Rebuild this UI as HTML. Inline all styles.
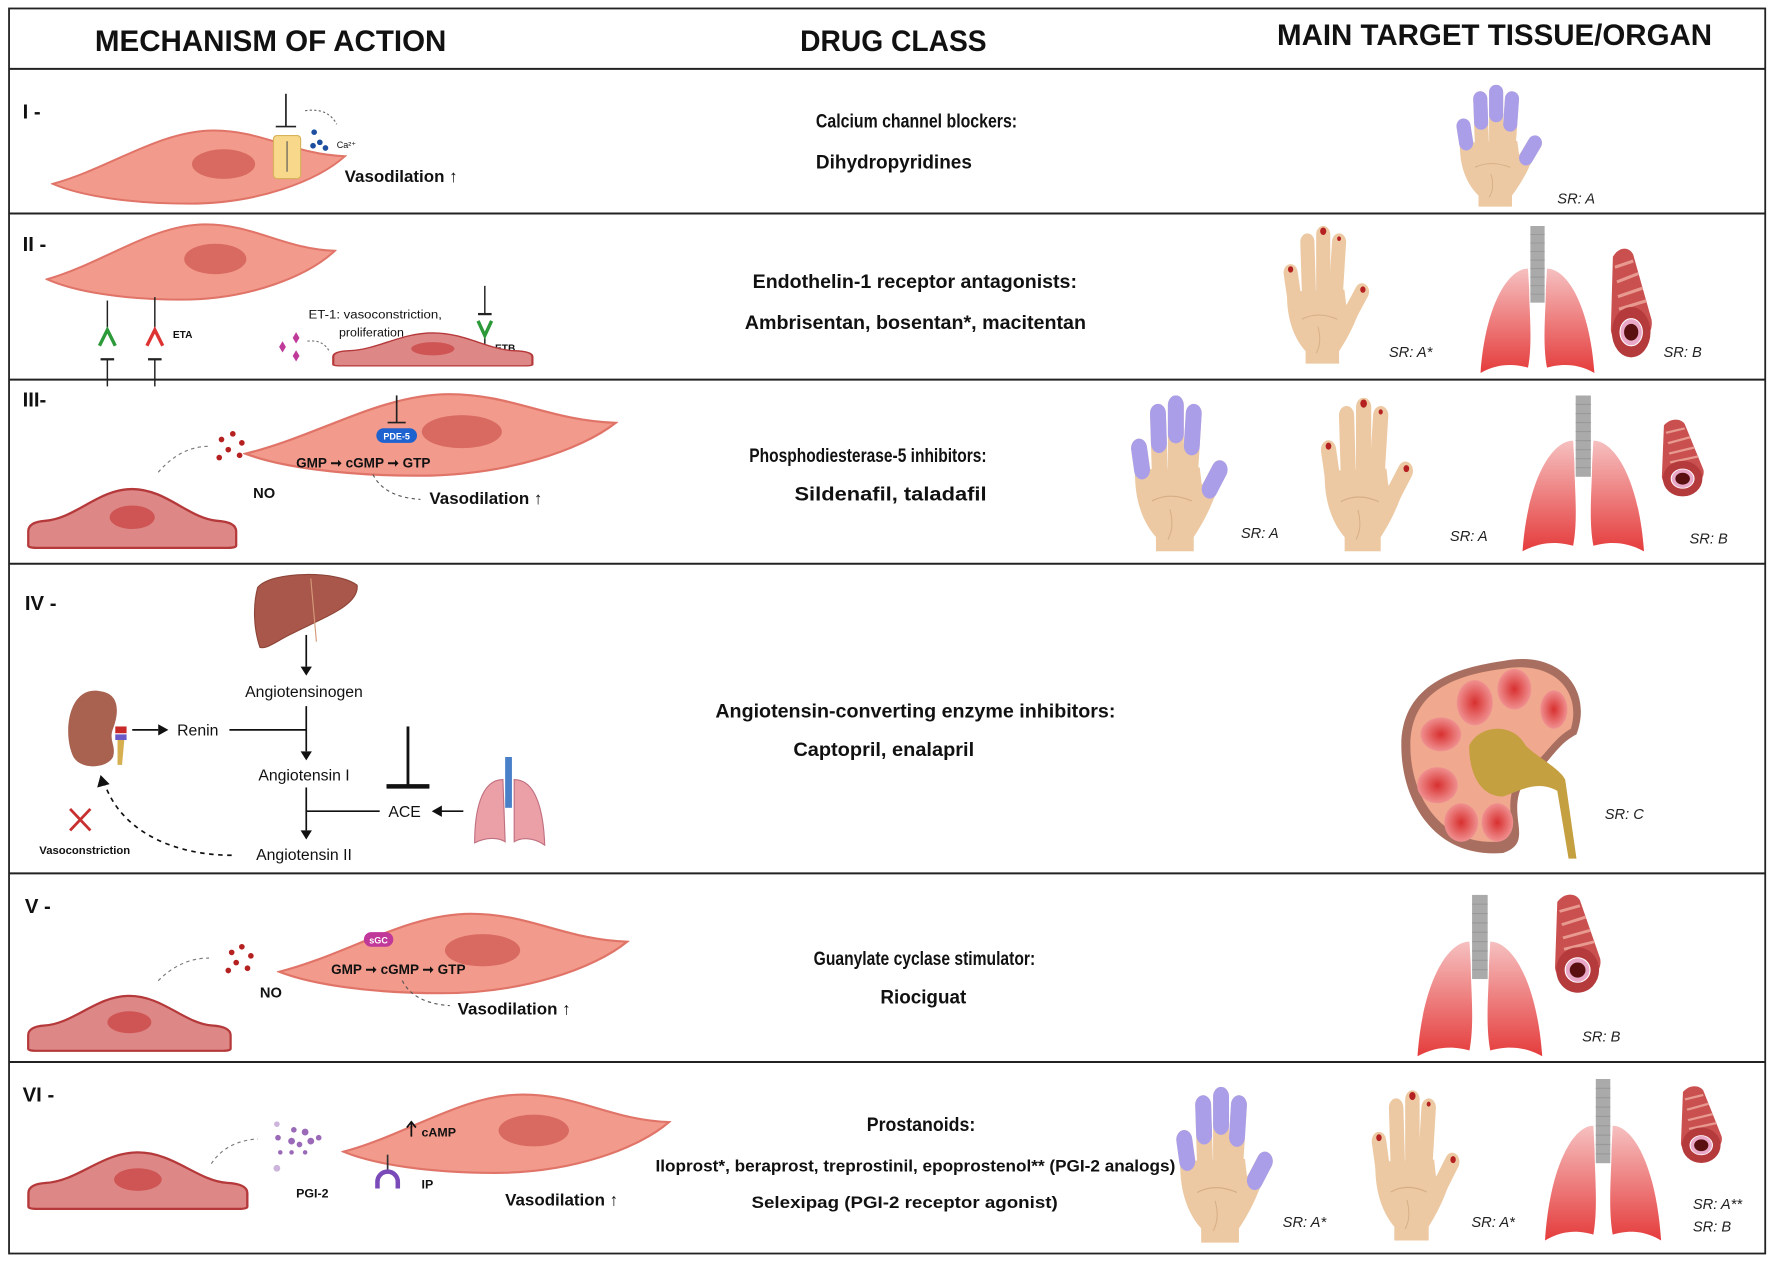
<!DOCTYPE html>
<html><head><meta charset="utf-8"><style>
html,body{margin:0;padding:0;background:#fff}
svg{display:block}
text{font-family:"Liberation Sans",sans-serif;fill:#111}
.h{font-weight:bold;font-size:26px}
.d{font-weight:bold;font-size:17px}
.r{font-weight:bold;font-size:18px}
.sr{font-style:italic;font-size:13px;fill:#222}
.s{font-weight:bold;font-size:13px}
</style></head><body>
<svg width="1772" height="1262" viewBox="0 0 1568 1117" preserveAspectRatio="none" xmlns="http://www.w3.org/2000/svg">
<defs>
<linearGradient id="lg" x1="0" y1="0" x2="0" y2="1"><stop offset="0" stop-color="#f6c0c0"/><stop offset="1" stop-color="#e53c3c"/></linearGradient>
<radialGradient id="rg"><stop offset="0" stop-color="#d83030"/><stop offset="1" stop-color="#f09090"/></radialGradient>
<symbol id="smc" viewBox="0 0 300 80" preserveAspectRatio="none">
<path d="M2,58 C60,42 110,4 165,4 C215,4 245,28 298,30 C270,55 210,78 140,78 C80,78 30,70 2,58Z" fill="#f29a8b" stroke="#e07468" stroke-width="2"/>
<ellipse cx="175" cy="38" rx="32" ry="15" fill="#d86a62"/>
</symbol>
<symbol id="endo" viewBox="0 0 190 72" preserveAspectRatio="none">
<path d="M3,68 L3,56 Q3,48 18,47 C45,45 65,20 95,20 C125,20 145,45 170,47 Q187,48 187,56 L187,68 Q187,70 180,70 L10,70 Q3,70 3,68Z" fill="#dd8886" stroke="#b5393a" stroke-width="2"/>
<ellipse cx="95" cy="44" rx="20" ry="10" fill="#cf5555"/>
</symbol>
<symbol id="handBase" viewBox="0 0 100 130" preserveAspectRatio="none">
<g stroke="#ecc9a2" stroke-width="16" stroke-linecap="round">
<line x1="9" y1="44" x2="15" y2="78"/>
<line x1="28" y1="15" x2="30" y2="68"/>
<line x1="46" y1="8" x2="46" y2="66"/>
<line x1="64" y1="15" x2="60" y2="68"/>
<line x1="90" y1="62" x2="72" y2="90"/>
</g>
<path d="M5,62 C4,90 15,108 26,118 L26,130 L64,130 L64,118 C72,108 80,96 86,82 L72,74 L70,60 Z" fill="#ecc9a2"/>
<path d="M22,88 Q40,80 62,88 M40,95 Q45,110 38,120" fill="none" stroke="#d6ae86" stroke-width="1"/>
</symbol>
<symbol id="handP" viewBox="0 0 100 130" preserveAspectRatio="none">
<use href="#handBase" x="0" y="0" width="100" height="130"/>
<g stroke="#ab9ee8" stroke-width="16" stroke-linecap="round">
<line x1="9" y1="44" x2="12" y2="62"/>
<line x1="28" y1="15" x2="29" y2="40"/>
<line x1="46" y1="8" x2="46" y2="32"/>
<line x1="64" y1="15" x2="62" y2="42"/>
<line x1="90" y1="62" x2="80" y2="78"/>
</g>
</symbol>
<symbol id="handR" viewBox="0 0 100 130" preserveAspectRatio="none">
<use href="#handBase" x="0" y="0" width="100" height="130"/>
<g fill="#b52020"><circle cx="9" cy="41" r="3"/><circle cx="46" cy="5" r="3.5"/><circle cx="64" cy="12" r="2.2"/><circle cx="91" cy="60" r="3"/></g>
</symbol>
<symbol id="lung" viewBox="0 0 100 140" preserveAspectRatio="none">
<rect x="44" y="0" width="12" height="72" fill="#aaa"/>
<g stroke="#999" stroke-width="1"><line x1="44" y1="8" x2="56" y2="8"/><line x1="44" y1="16" x2="56" y2="16"/><line x1="44" y1="24" x2="56" y2="24"/><line x1="44" y1="32" x2="56" y2="32"/><line x1="44" y1="40" x2="56" y2="40"/><line x1="44" y1="48" x2="56" y2="48"/><line x1="44" y1="56" x2="56" y2="56"/><line x1="44" y1="64" x2="56" y2="64"/></g>
<path d="M42,40 C25,40 6,75 2,138 C18,128 32,130 42,133 C46,110 43,80 43,60Z" fill="url(#lg)"/>
<path d="M58,40 C75,40 94,75 98,138 C82,128 68,130 58,133 C54,110 57,80 57,60Z" fill="url(#lg)"/>
</symbol>
<symbol id="vessel" viewBox="0 0 50 110" preserveAspectRatio="none">
<path d="M8,10 C14,0 24,0 28,8 L46,70 C50,95 10,108 6,80Z" fill="#c9504f"/>
<g stroke="#e89a90" stroke-width="3" fill="none"><path d="M10,20 L28,14"/><path d="M12,34 L33,26"/><path d="M13,48 L37,40"/><path d="M14,60 L41,52"/></g>
<ellipse cx="26" cy="82" rx="19" ry="24" fill="#b43a3c"/>
<ellipse cx="26" cy="82" rx="11" ry="13" fill="#e9a8c8" stroke="#fff" stroke-width="1"/>
<ellipse cx="26" cy="82" rx="7" ry="8" fill="#5a1010"/>
</symbol>
</defs>

<rect x="8" y="7.5" width="1554" height="1102" fill="none" stroke="#222" stroke-width="1.6"/>
<g stroke="#222" stroke-width="1.8">
<line x1="8" y1="61" x2="1562" y2="61"/><line x1="8" y1="189" x2="1562" y2="189"/><line x1="8" y1="336" x2="1562" y2="336"/><line x1="8" y1="499" x2="1562" y2="499"/><line x1="8" y1="773" x2="1562" y2="773"/><line x1="8" y1="940" x2="1562" y2="940"/>
</g>

<text class="h" x="84" y="45" textLength="311" lengthAdjust="spacingAndGlyphs">MECHANISM OF ACTION</text>
<text class="h" x="708" y="45" textLength="165" lengthAdjust="spacingAndGlyphs">DRUG CLASS</text>
<text class="h" x="1130" y="40" textLength="385" lengthAdjust="spacingAndGlyphs">MAIN TARGET TISSUE/ORGAN</text>

<text class="r" x="20" y="105">I -</text>
<text class="r" x="20" y="222">II -</text>
<text class="r" x="20" y="360">III-</text>
<text class="r" x="22" y="540">IV -</text>
<text class="r" x="22" y="808">V -</text>
<text class="r" x="20" y="975">VI -</text>

<text class="d" x="722" y="113" textLength="178" lengthAdjust="spacingAndGlyphs">Calcium channel blockers:</text>
<text class="d" x="722" y="149" textLength="138" lengthAdjust="spacingAndGlyphs">Dihydropyridines</text>
<text class="d" x="666" y="255" textLength="287" lengthAdjust="spacingAndGlyphs">Endothelin-1 receptor antagonists:</text>
<text class="d" x="659" y="291" textLength="302" lengthAdjust="spacingAndGlyphs">Ambrisentan, bosentan*, macitentan</text>
<text class="d" x="663" y="409" textLength="210" lengthAdjust="spacingAndGlyphs">Phosphodiesterase-5 inhibitors:</text>
<text class="d" x="703" y="443" textLength="170" lengthAdjust="spacingAndGlyphs">Sildenafil, taladafil</text>
<text class="d" x="633" y="635" textLength="354" lengthAdjust="spacingAndGlyphs">Angiotensin-converting enzyme inhibitors:</text>
<text class="d" x="702" y="669" textLength="160" lengthAdjust="spacingAndGlyphs">Captopril, enalapril</text>
<text class="d" x="720" y="854" textLength="196" lengthAdjust="spacingAndGlyphs">Guanylate cyclase stimulator:</text>
<text class="d" x="779" y="888" textLength="76" lengthAdjust="spacingAndGlyphs">Riociguat</text>
<text class="d" x="767" y="1001" textLength="96" lengthAdjust="spacingAndGlyphs">Prostanoids:</text>
<text class="d" x="580" y="1037" style="font-size:15px" textLength="460" lengthAdjust="spacingAndGlyphs">Iloprost*, beraprost, treprostinil, epoprostenol** (PGI-2 analogs)</text>
<text class="d" x="665" y="1069" style="font-size:15px" textLength="271" lengthAdjust="spacingAndGlyphs">Selexipag (PGI-2 receptor agonist)</text>

<!-- Row I -->
<use href="#smc" x="45" y="112" width="262" height="70"/>
<rect x="242" y="120" width="24" height="38" rx="3" fill="#f8d98c" stroke="#d7b25a"/>
<line x1="254" y1="125" x2="254" y2="152" stroke="#555"/>
<g stroke="#222" stroke-width="1.5"><line x1="253" y1="83" x2="253" y2="112"/><line x1="244" y1="112" x2="262" y2="112"/></g>
<g fill="#1c4fa0"><circle cx="278" cy="117" r="2.5"/><circle cx="283" cy="126" r="2.5"/><circle cx="277" cy="129" r="2.5"/><circle cx="288" cy="131" r="2.5"/></g>
<path d="M270,98 Q290,95 298,110" fill="none" stroke="#666" stroke-dasharray="2,2"/>
<text x="298" y="131" style="font-size:8px">Ca²⁺</text>
<text x="305" y="161" style="font-weight:bold;font-size:15px">Vasodilation ↑</text>
<use href="#handP" x="1288" y="75" width="78" height="108"/>
<text class="sr" x="1378" y="180">SR: A</text>

<!-- Row II -->
<use href="#smc" x="40" y="195" width="258" height="72"/>
<g stroke="#222" stroke-width="1.3"><line x1="95" y1="266" x2="95" y2="290"/><line x1="137" y1="263" x2="137" y2="290"/>
<line x1="95" y1="318" x2="95" y2="342"/><line x1="89" y1="318" x2="101" y2="318" stroke-width="2"/>
<line x1="137" y1="318" x2="137" y2="342"/><line x1="131" y1="318" x2="143" y2="318" stroke-width="2"/>
<line x1="429" y1="253" x2="429" y2="278"/><line x1="423" y1="278" x2="435" y2="278" stroke-width="2"/>
<line x1="429" y1="297" x2="429" y2="310"/></g>
<path d="M88,306 L95,292 L102,306" fill="none" stroke="#2d9a3a" stroke-width="3"/>
<path d="M130,306 L137,292 L144,306" fill="none" stroke="#d33" stroke-width="3"/>
<path d="M423,284 L429,297 L435,284" fill="none" stroke="#2d9a3a" stroke-width="3"/>
<text x="153" y="299" style="font-size:9px;font-weight:bold">ETA</text>
<text x="438" y="311" style="font-size:9px;font-weight:bold">ETB</text>
<text x="273" y="282" style="font-size:11px" textLength="118" lengthAdjust="spacingAndGlyphs">ET-1: vasoconstriction,</text>
<text x="300" y="298" style="font-size:11px">proliferation</text>
<g fill="#c03a9a"><path d="M262,294 l3,5 -3,5 -3,-5z"/><path d="M250,302 l3,5 -3,5 -3,-5z"/><path d="M262,310 l3,5 -3,5 -3,-5z"/></g>
<path d="M272,302 Q286,300 292,312" fill="none" stroke="#777" stroke-dasharray="2,2"/>
<use href="#endo" x="292" y="283" width="182" height="42"/>
<use href="#handR" x="1135" y="200" width="78" height="122"/>
<text class="sr" x="1229" y="316">SR: A*</text>
<use href="#lung" x="1308" y="200" width="105" height="132"/>
<use href="#vessel" x="1420" y="218" width="45" height="102"/>
<text class="sr" x="1472" y="316">SR: B</text>

<!-- Row III -->
<use href="#endo" x="22" y="412" width="190" height="75"/>
<path d="M140,418 Q160,395 185,395" fill="none" stroke="#777" stroke-dasharray="3,3"/>
<g fill="#b52020"><circle cx="196" cy="389" r="2.5"/><circle cx="206" cy="384" r="2.5"/><circle cx="214" cy="392" r="2.5"/><circle cx="202" cy="398" r="2.5"/><circle cx="212" cy="403" r="2.5"/><circle cx="194" cy="405" r="2.5"/></g>
<text class="s" x="224" y="441">NO</text>
<use href="#smc" x="215" y="345" width="332" height="78"/>
<rect x="333" y="379" width="36" height="13" rx="6.5" fill="#1e62d0"/>
<text x="351" y="389" text-anchor="middle" style="font-size:8px;font-weight:bold;fill:#fff">PDE-5</text>
<g stroke="#222" stroke-width="1.5"><line x1="351" y1="350" x2="351" y2="374"/><line x1="343" y1="374" x2="359" y2="374"/></g>
<text x="262" y="414" style="font-size:12px;font-weight:bold">GMP ➞ cGMP ➞ GTP</text>
<path d="M330,420 Q340,440 372,442" fill="none" stroke="#555" stroke-dasharray="3,3"/>
<text x="380" y="446" style="font-weight:bold;font-size:15px">Vasodilation ↑</text>
<use href="#handP" x="1000" y="350" width="88" height="138"/>
<text class="sr" x="1098" y="476">SR: A</text>
<use href="#handR" x="1168" y="352" width="84" height="136"/>
<text class="sr" x="1283" y="479">SR: A</text>
<use href="#lung" x="1345" y="350" width="112" height="140"/>
<use href="#vessel" x="1465" y="370" width="46" height="72"/>
<text class="sr" x="1495" y="481">SR: B</text>

<!-- Row IV -->
<path d="M228,520 C240,505 300,505 316,518 C318,535 290,545 260,560 C245,567 236,575 230,573 C224,555 224,535 228,520Z" fill="#a8574a" stroke="#8d4538"/>
<line x1="275" y1="512" x2="280" y2="568" stroke="#d59a7a"/>
<g stroke="#111" stroke-width="1.5" fill="none">
<line x1="271" y1="562" x2="271" y2="590"/>
<line x1="271" y1="625" x2="271" y2="665"/>
<line x1="203" y1="646" x2="271" y2="646"/>
<line x1="117" y1="646" x2="140" y2="646"/>
<line x1="271" y1="697" x2="271" y2="735"/>
<line x1="271" y1="718" x2="336" y2="718"/>
<line x1="386" y1="718" x2="410" y2="718"/>
<line x1="361" y1="643" x2="361" y2="695" stroke-width="2.5"/>
<line x1="342" y1="696" x2="380" y2="696" stroke-width="4"/>
<path d="M205,757 C160,757 110,740 93,695" stroke-dasharray="4,4"/>
</g>
<g fill="#111"><path d="M266,590 L276,590 L271,598Z"/><path d="M266,665 L276,665 L271,673Z"/><path d="M266,735 L276,735 L271,743Z"/><path d="M140,641 L140,651 L149,646Z"/><path d="M391,713 L391,723 L382,718Z"/><path d="M86,697 L97,694 L89,686Z"/></g>
<text x="269" y="617" text-anchor="middle" style="font-size:14px">Angiotensinogen</text>
<text x="175" y="651" text-anchor="middle" style="font-size:14px">Renin</text>
<text x="269" y="691" text-anchor="middle" style="font-size:14px">Angiotensin I</text>
<text x="358" y="723" text-anchor="middle" style="font-size:14px">ACE</text>
<text x="269" y="761" text-anchor="middle" style="font-size:14px">Angiotensin II</text>
<path d="M90,612 C60,605 55,650 65,670 C72,682 95,680 100,670 C103,660 96,655 100,645 C104,635 108,615 90,612Z" fill="#a8624f"/>
<rect x="102" y="643" width="10" height="6" fill="#c82828"/><rect x="102" y="650" width="10" height="5" fill="#6a5ac8"/>
<path d="M104,655 L110,655 L108,677 L104,677Z" fill="#d6b050"/>
<path d="M62,716 L80,735 M80,716 L62,735" stroke="#c83030" stroke-width="2.5"/>
<text x="75" y="756" text-anchor="middle" style="font-size:10px;font-weight:bold">Vasoconstriction</text>
<rect x="447" y="670" width="6" height="45" fill="#4a80c8"/>
<path d="M445,690 C425,690 420,720 420,746 C432,740 442,742 447,745Z M455,690 C475,690 481,720 482,748 C470,740 460,742 455,745Z" fill="#eba0a8" stroke="#c07080"/>
<path d="M1330,585 C1380,575 1410,610 1395,650 C1375,660 1370,680 1350,690 C1330,720 1360,745 1330,755 C1270,760 1240,710 1240,660 C1240,610 1280,592 1330,585Z" fill="#a86f60"/>
<path d="M1330,592 C1375,584 1400,612 1390,645 C1372,655 1365,675 1345,685 C1325,715 1350,738 1325,745 C1275,748 1248,705 1248,660 C1248,615 1282,598 1330,592Z" fill="#f0a88e"/>
<g fill="url(#rg)"><ellipse cx="1305" cy="622" rx="16" ry="20"/><ellipse cx="1340" cy="610" rx="15" ry="18"/><ellipse cx="1375" cy="628" rx="12" ry="17"/><ellipse cx="1275" cy="650" rx="18" ry="15"/><ellipse cx="1272" cy="695" rx="18" ry="16"/><ellipse cx="1293" cy="728" rx="15" ry="17"/><ellipse cx="1325" cy="728" rx="14" ry="17"/></g>
<path d="M1300,660 C1310,640 1340,640 1350,660 C1360,670 1380,680 1385,690 L1395,760 L1388,760 L1378,700 C1360,690 1345,700 1330,705 C1310,705 1300,685 1300,660Z" fill="#c4a040"/>
<text class="sr" x="1420" y="725">SR: C</text>

<!-- Row V -->
<use href="#endo" x="22" y="862" width="185" height="70"/>
<path d="M140,868 Q160,848 185,848" fill="none" stroke="#777" stroke-dasharray="3,3"/>
<g fill="#b52020"><circle cx="205" cy="843" r="2.5"/><circle cx="214" cy="838" r="2.5"/><circle cx="222" cy="846" r="2.5"/><circle cx="209" cy="852" r="2.5"/><circle cx="219" cy="857" r="2.5"/><circle cx="202" cy="859" r="2.5"/></g>
<text class="s" x="230" y="883">NO</text>
<use href="#smc" x="245" y="805" width="312" height="76"/>
<rect x="322" y="825" width="26" height="13" rx="6.5" fill="#c0389a"/>
<text x="335" y="835" text-anchor="middle" style="font-size:8px;font-weight:bold;fill:#fff">sGC</text>
<text x="293" y="862" style="font-size:12px;font-weight:bold">GMP ➞ cGMP ➞ GTP</text>
<path d="M356,868 Q366,888 398,890" fill="none" stroke="#555" stroke-dasharray="3,3"/>
<text x="405" y="898" style="font-weight:bold;font-size:15px">Vasodilation ↑</text>
<use href="#lung" x="1252" y="792" width="115" height="145"/>
<use href="#vessel" x="1370" y="790" width="50" height="92"/>
<text class="sr" x="1400" y="922">SR: B</text>

<!-- Row VI -->
<use href="#endo" x="22" y="1000" width="200" height="72"/>
<path d="M187,1030 Q200,1010 228,1008" fill="none" stroke="#777" stroke-dasharray="3,3"/>
<g fill="#9a6ab8"><circle cx="245" cy="995" r="2.5" opacity=".5"/><circle cx="260" cy="1000" r="2.5"/><circle cx="270" cy="1002" r="3"/><circle cx="275" cy="1010" r="3"/><circle cx="258" cy="1010" r="3"/><circle cx="246" cy="1007" r="2.5"/><circle cx="265" cy="1013" r="2.5"/><circle cx="282" cy="1007" r="2.5"/><circle cx="248" cy="1020" r="2"/><circle cx="258" cy="1020" r="2"/><circle cx="270" cy="1020" r="2"/><circle cx="245" cy="1034" r="3" opacity=".5"/></g>
<text class="s" x="262" y="1060" style="font-size:11px">PGI-2</text>
<use href="#smc" x="302" y="965" width="292" height="75"/>
<path d="M364,1006 L364,994 M360,998 L364,993 L368,998" stroke="#111" stroke-width="1.5" fill="none"/>
<text class="s" x="373" y="1006" style="font-size:11px">cAMP</text>
<line x1="343" y1="1022" x2="343" y2="1038" stroke="#333" stroke-width="1.5"/>
<path d="M334,1052 L334,1046 A9,9 0 0 1 352,1046 L352,1052" fill="none" stroke="#7a4ab8" stroke-width="4"/>
<text class="s" x="373" y="1052" style="font-size:11px">IP</text>
<text x="447" y="1067" style="font-weight:bold;font-size:15px">Vasodilation ↑</text>
<use href="#handP" x="1040" y="962" width="88" height="138"/>
<text class="sr" x="1135" y="1086">SR: A*</text>
<use href="#handR" x="1213" y="965" width="80" height="133"/>
<text class="sr" x="1302" y="1086">SR: A*</text>
<use href="#lung" x="1365" y="955" width="107" height="145"/>
<use href="#vessel" x="1482" y="960" width="45" height="72"/>
<text class="sr" x="1498" y="1070">SR: A**</text>
<text class="sr" x="1498" y="1090">SR: B</text>
</svg>
</body></html>
